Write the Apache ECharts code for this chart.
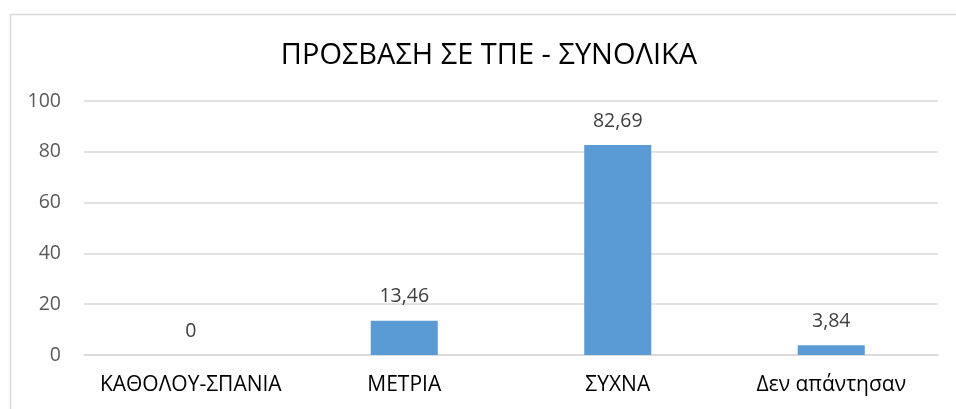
<!DOCTYPE html>
<html><head><meta charset="utf-8">
<script src="https://cdn.jsdelivr.net/npm/echarts@6/dist/echarts.min.js"></script>
<style>html,body{margin:0;padding:0;background:#fff}#c{width:956px;height:409px}</style>
</head><body><div id="c"></div>
<script>
const titleText = 'ΠΡΟΣΒΑΣΗ ΣΕ ΤΠΕ - ΣΥΝΟΛΙΚΑ';
const categories = ['ΚΑΘΟΛΟΥ-ΣΠΑΝΙΑ', 'ΜΕΤΡΙΑ', 'ΣΥΧΝΑ', 'Δεν απάντησαν'];
const values = [0, 13.46, 82.69, 3.84];
const yMin = 0, yMax = 100, yStep = 20;

const chart = echarts.init(document.getElementById('c'), null, {renderer: 'canvas'});
const font = '"Open Sans", "Noto Sans", sans-serif';
chart.setOption({
  animation: false,
  graphic: [{type: 'rect', left: 8, top: 12, shape: {width: 1000, height: 500}, style: {fill: 'none', stroke: '#d9d9d9', lineWidth: 1.5}, z: 0}],
  title: {text: titleText, left: 484, top: 36, textAlign: 'center',
    textStyle: {fontFamily: font, fontSize: 29, fontWeight: 'normal', color: '#000'}},
  grid: {left: 84, right: 18, top: 101, bottom: 54, containLabel: false},
  xAxis: {type: 'category', data: categories,
    axisLine: {show: true, lineStyle: {color: '#d9d9d9', width: 1.5}},
    axisTick: {show: false},
    axisLabel: {interval: 0, fontFamily: font, fontSize: 21, color: '#000', margin: 20}},
  yAxis: {type: 'value', min: yMin, max: yMax, interval: yStep,
    axisLine: {show: false}, axisTick: {show: false},
    splitLine: {lineStyle: {color: '#d9d9d9', width: 1.5}},
    axisLabel: {fontFamily: font, fontSize: 19.5, color: '#595959', margin: 23}},
  series: [{type: 'bar', data: values, barWidth: '31.4%',
    itemStyle: {color: '#5b9bd5'},
    label: {show: true, position: 'top', distance: 14, fontFamily: font, fontSize: 19.5, color: '#404040',
      formatter: p => String(p.value).replace('.', ',')}}]
});
</script></body></html>
